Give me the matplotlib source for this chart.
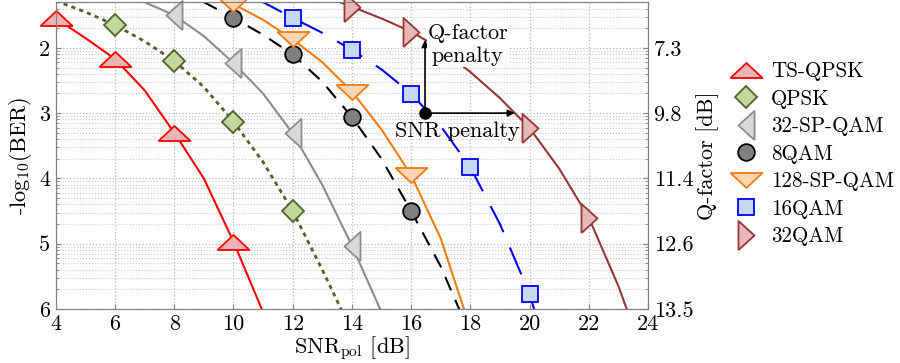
import matplotlib
matplotlib.use("Agg")
import matplotlib.pyplot as plt
import numpy as np
from matplotlib.lines import Line2D

plt.rcParams['font.family'] = 'serif'
plt.rcParams['font.serif'] = ['cmr10', 'DejaVu Serif']
plt.rcParams['mathtext.fontset'] = 'cm'
plt.rcParams['axes.unicode_minus'] = False
plt.rcParams['font.size'] = 16

# -log10(BER) curves vs SNR per polarization
snr_tsqpsk = [4, 5, 6, 7, 8, 9, 10, 11]
ber_tsqpsk = [1.55, 1.85, 2.17, 2.65, 3.3, 4.0, 4.97, 6.05]
mk_tsqpsk = [0, 2, 4, 6]

snr_qpsk = [4, 5, 6, 7, 8, 9, 10, 11, 12, 13, 14]
ber_qpsk = [1.28, 1.45, 1.65, 1.9, 2.2, 2.6, 3.13, 3.75, 4.5, 5.4, 6.35]
mk_qpsk = [2, 4, 6, 8]

snr_32sp = [7, 8, 9, 10, 11, 12, 13, 14, 15]
ber_32sp = [1.3, 1.5, 1.82, 2.23, 2.7, 3.31, 4.1, 5.03, 6.05]
mk_32sp = [1, 3, 5, 7]

snr_8qam = [9, 10, 11, 12, 13, 14, 15, 16, 17, 18]
ber_8qam = [1.3, 1.54, 1.8, 2.1, 2.52, 3.06, 3.7, 4.5, 5.35, 6.4]
mk_8qam = [1, 3, 5, 7]

snr_128sp = [9, 10, 11, 12, 13, 14, 15, 16, 17, 18]
ber_128sp = [1.15, 1.33, 1.57, 1.87, 2.22, 2.67, 3.25, 3.95, 4.92, 6.3]
mk_128sp = [1, 3, 5, 7]

snr_16qam = [10, 11, 12, 13, 14, 15, 16, 17, 18, 19, 20, 21]
ber_16qam = [1.1, 1.3, 1.54, 1.77, 2.03, 2.33, 2.7, 3.2, 3.83, 4.7, 5.77, 7.3]
mk_16qam = [2, 4, 6, 8, 10]

snr_32qam = [13, 14, 15, 16, 17, 18, 19, 20, 21, 22, 23, 24]
ber_32qam = [1.2, 1.37, 1.55, 1.75, 2.02, 2.37, 2.77, 3.23, 3.85, 4.6, 5.65, 6.9]
mk_32qam = [1, 3, 7, 9]

labels = ['TS-QPSK', 'QPSK', '32-SP-QAM', '8QAM', '128-SP-QAM', '16QAM', '32QAM']
yticks = [2, 3, 4, 5, 6]
qfactor_labels = ['7.3', '9.8', '11.4', '12.6', '13.5']
xticks = [4, 6, 8, 10, 12, 14, 16, 18, 20, 22, 24]

# flattened MATLAB-like triangles
tri_up = [(-1, -0.47), (1, -0.47), (0, 0.47), (-1, -0.47)]
tri_down = [(-1, 0.47), (1, 0.47), (0, -0.47), (-1, 0.47)]
tri_left = [(0.55, -1), (0.55, 1), (-0.55, 0), (0.55, -1)]
tri_right = [(-0.55, -1), (-0.55, 1), (0.55, 0), (-0.55, -1)]

series = [
    (snr_tsqpsk, ber_tsqpsk, mk_tsqpsk, dict(color='#ff0000', ls='-'), tri_up, 23, '#e8b4b4', '#ff0000'),
    (snr_qpsk, ber_qpsk, mk_qpsk, dict(color='#4f6228', ls=(0, (1.5, 1.5)), lw=2.0), 'D', 11.5, '#c3d69b', '#4f6228'),
    (snr_32sp, ber_32sp, mk_32sp, dict(color='#8c8c8c', ls='-'), tri_left, 21, '#d9d9d9', '#8c8c8c'),
    (snr_8qam, ber_8qam, mk_8qam, dict(color='black', ls=(0, (7, 5))), 'o', 12, '#7f7f7f', 'black'),
    (snr_128sp, ber_128sp, mk_128sp, dict(color='#f07c12', ls='-'), tri_down, 23, '#fcd5b5', '#f07c12'),
    (snr_16qam, ber_16qam, mk_16qam, dict(color='#0000ff', ls=(0, (14, 8))), 's', 12, '#c6d9f1', '#0000ff'),
    (snr_32qam, ber_32qam, mk_32qam, dict(color='#953735', ls='-'), tri_right, 21, '#e6b9b8', '#953735'),
]

fig = plt.figure(figsize=(9, 3.63), dpi=100)
ax = fig.add_axes([0.062, 0.149, 0.658, 0.845])
ax.set_yscale('log')

handles = []
for x, v, mk, lstyle, marker, ms, fc, ec in series:
    x = np.array(x)
    ber = 10.0 ** (-np.array(v))
    kw = dict(lw=1.5)
    kw.update(lstyle)
    ax.plot(x, ber, zorder=3, **kw)
    ax.plot(x[mk], ber[mk], ls='none', marker=marker, ms=ms, mfc=fc, mec=ec,
            mew=1.3, clip_on=False, zorder=4)
    handles.append(Line2D([], [], ls='none', marker=marker, ms=ms, mfc=fc, mec=ec, mew=1.3))

ax.set_xlim(4, 24)
ax.set_ylim(1e-6, 10 ** -1.3)
ax.set_xticks(xticks)
ax.set_xticklabels([str(t) for t in xticks])
ax.set_yticks([10.0 ** -t for t in yticks])
ax.set_yticklabels([str(t) for t in yticks])
ax.yaxis.set_minor_formatter(matplotlib.ticker.NullFormatter())
ax.tick_params(which='both', direction='in', color='#808080', pad=4)
ax.grid(True, which='major', ls=':', color='#b8b8b8', lw=0.9)
ax.grid(True, which='minor', axis='y', ls=':', color='#c8c8c8', lw=0.8)
for s in ax.spines.values():
    s.set_color('#808080')
ax.set_xlabel(r'SNR$_{\mathrm{pol}}$ [dB]', labelpad=0)
ax.set_ylabel(r'-log$_{10}$(BER)', labelpad=4)

ax2 = ax.twinx()
ax2.set_yscale('log')
ax2.set_ylim(ax.get_ylim())
ax2.set_yticks([10.0 ** -t for t in yticks])
ax2.set_yticklabels(qfactor_labels)
ax2.yaxis.set_minor_formatter(matplotlib.ticker.NullFormatter())
ax2.tick_params(which='both', direction='in', color='#808080', pad=4)
for s in ax2.spines.values():
    s.set_color('#808080')
ax2.set_ylabel('Q-factor [dB]', labelpad=2)

# penalty annotation
p0 = (16.47, 1e-3)
ax.annotate('', xy=(16.47, 10 ** -1.88), xytext=p0,
            arrowprops=dict(arrowstyle='-|>', color='black', lw=1.2, mutation_scale=10,
                            shrinkA=0, shrinkB=0), zorder=5)
ax.annotate('', xy=(19.5, 1e-3), xytext=p0,
            arrowprops=dict(arrowstyle='-|>', color='black', lw=1.2, mutation_scale=10,
                            shrinkA=0, shrinkB=0), zorder=5)
ax.plot([p0[0]], [p0[1]], 'o', color='black', ms=8, zorder=6)
ax.text(16.55, 10 ** -1.62, 'Q-factor\npenalty', ha='left', va='top', multialignment='center',
        linespacing=1.25, zorder=5,
        bbox=dict(facecolor='white', edgecolor='none', pad=0.5))
ax.text(17.55, 10 ** -3.27, 'SNR penalty', ha='center', va='center', zorder=5)

fig.legend(handles, labels, loc='center left', bbox_to_anchor=(0.812, 0.576),
           frameon=False, handlelength=1.45, handletextpad=0.45, labelspacing=0.38,
           borderpad=0, borderaxespad=0, prop={'size': 15.2})

fig.savefig('out.png', dpi=100)
